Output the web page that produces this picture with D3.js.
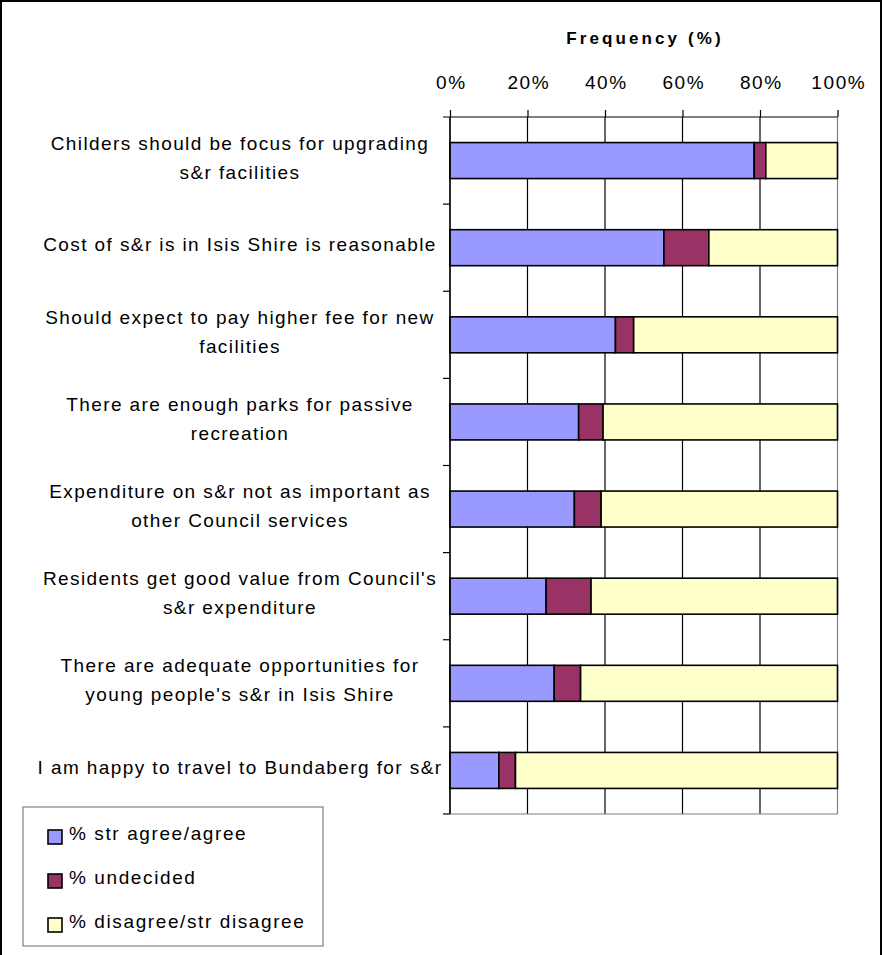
<!DOCTYPE html>
<html>
<head>
<meta charset="utf-8">
<script src="https://cdn.jsdelivr.net/npm/d3@7"></script>
<style>
  html, body { margin: 0; padding: 0; background: #fff; }
  svg { display: block; font-family: "Liberation Sans", Arial, sans-serif; }
</style>
</head>
<body>
<svg id="chart" width="883" height="955"></svg>
<script>
// Survey statements (two-line labels are split on "|")
const statements = [
  "Childers should be focus for upgrading|s&r facilities",
  "Cost of s&r is in Isis Shire is reasonable",
  "Should expect to pay higher fee for new|facilities",
  "There are enough parks for passive|recreation",
  "Expenditure on s&r not as important as|other Council services",
  "Residents get good value from Council's|s&r expenditure",
  "There are adequate opportunities for|young people's s&r in Isis Shire",
  "I am happy to travel to Bundaberg for s&r"
];
const seriesNames = ["% str agree/agree", "% undecided", "% disagree/str disagree"];
const agree     = [78.5, 55.2, 42.7, 33.2, 32.1, 24.8, 26.9, 12.6];
const undecided = [ 3.0, 11.6,  4.7,  6.3,  6.9, 11.6,  6.8,  4.3];
const disagree  = [18.5, 33.2, 52.6, 60.5, 61.0, 63.6, 66.3, 83.1];
const tickValues = [0, 20, 40, 60, 80, 100];
const colors = ["#9999FF", "#993366", "#FFFFCC"];

const svg = d3.select("#chart");

// outer frame
svg.append("rect").attr("x", 1).attr("y", 1).attr("width", 880).attr("height", 960)
  .attr("fill", "none").attr("stroke", "#000").attr("stroke-width", 2);

const plot = { left: 450, right: 837.5, top: 117, bottom: 814 };

const x = d3.scaleLinear().domain([0, 100]).range([plot.left, plot.right]);
const y = d3.scaleBand().domain(d3.range(statements.length))
  .range([plot.top, plot.bottom]).paddingInner(0.587).paddingOuter(0.2935);

const rows = statements.map((s, i) => ({ i, vals: [agree[i], undecided[i], disagree[i]] }));
const stack = d3.stack().keys([0, 1, 2]).value((d, k) => d.vals[k]);
const stacked = stack(rows);

// vertical gridlines
svg.append("g").selectAll("line").data(tickValues).join("line")
  .attr("x1", d => x(d)).attr("x2", d => x(d))
  .attr("y1", plot.top).attr("y2", plot.bottom)
  .attr("stroke", d => d === 100 ? "#808080" : "#000").attr("stroke-width", 1.2);

// bottom edge of plot area
svg.append("line").attr("x1", plot.left).attr("x2", plot.right)
  .attr("y1", plot.bottom).attr("y2", plot.bottom)
  .attr("stroke", "#808080").attr("stroke-width", 1.2);

// bars
svg.append("g").selectAll("g").data(stacked).join("g")
  .attr("fill", (d, k) => colors[k])
  .selectAll("rect").data(d => d).join("rect")
  .attr("x", d => x(d[0]))
  .attr("width", d => x(d[1]) - x(d[0]))
  .attr("y", d => y(d.data.i))
  .attr("height", y.bandwidth())
  .attr("stroke", "#000").attr("stroke-width", 1.6);

// top axis
const topAxis = svg.append("g").attr("transform", `translate(0,${plot.top})`)
  .call(d3.axisTop(x).tickValues(tickValues).tickFormat(d => d + "%").tickSize(7).tickPadding(21).tickSizeOuter(0));
topAxis.select(".domain").remove();
topAxis.append("line").attr("x1", plot.left - 7).attr("x2", plot.right).attr("stroke", "#000").attr("stroke-width", 1.2);
topAxis.selectAll(".tick line").attr("stroke", "#000").attr("stroke-width", 1.2);
topAxis.selectAll(".tick text").attr("fill", "#000")
  .style("font-size", "19px").style("letter-spacing", "1.6px")
  .attr("dx", "0.8px")
  .attr("font-family", "Liberation Sans, Arial, sans-serif");

// title
svg.append("text").attr("x", 645).attr("y", 44).attr("text-anchor", "middle")
  .style("font-size", "17px").style("font-weight", "bold").style("letter-spacing", "3.1px")
  .text("Frequency (%)");

// left axis line with ticks at category boundaries
svg.append("line").attr("x1", plot.left).attr("x2", plot.left)
  .attr("y1", plot.top).attr("y2", plot.bottom).attr("stroke", "#000").attr("stroke-width", 1.2);
const step = y.step();
svg.append("g").selectAll("line").data(d3.range(1, statements.length + 1)).join("line")
  .attr("x1", plot.left - 7).attr("x2", plot.left)
  .attr("y1", k => plot.top + k * step).attr("y2", k => plot.top + k * step)
  .attr("stroke", "#000").attr("stroke-width", 1.2);

// category labels
const labels = svg.append("g").selectAll("text").data(statements).join("text")
  .attr("text-anchor", "middle")
  .style("font-size", "19px").style("letter-spacing", "1.4px")
  .attr("transform", (d, i) => `translate(240,${y(i) + y.bandwidth() / 2})`);
labels.each(function(d) {
  const parts = d.split("|");
  const t = d3.select(this);
  const lh = 29;
  parts.forEach((p, j) => {
    t.append("tspan").attr("x", 0)
      .attr("y", (j - (parts.length - 1) / 2) * lh - 3)
      .attr("dy", "0.35em").text(p);
  });
});

// legend
const lg = svg.append("g").attr("transform", "translate(23,807)");
lg.append("rect").attr("width", 300).attr("height", 139)
  .attr("fill", "#fff").attr("stroke", "#808080").attr("stroke-width", 1.2);
const items = lg.selectAll("g").data(seriesNames).join("g")
  .attr("transform", (d, k) => `translate(25,${23 + k * 44})`);
items.append("rect").attr("width", 14).attr("height", 14)
  .attr("fill", (d, k) => colors[k]).attr("stroke", "#000").attr("stroke-width", 1.6);
items.append("text").attr("x", 21).attr("y", 3).attr("dy", "0.35em")
  .style("font-size", "19px").style("letter-spacing", "1.6px").text(d => d);
</script>
</body>
</html>
